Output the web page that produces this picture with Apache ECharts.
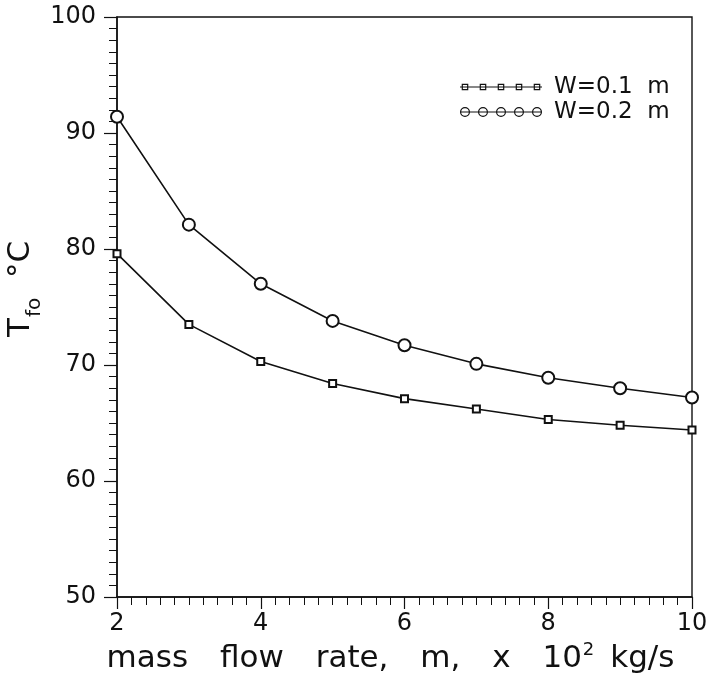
<!DOCTYPE html>
<html>
<head>
<meta charset="utf-8">
<script src="https://cdn.jsdelivr.net/npm/echarts@6/dist/echarts.min.js"></script>
<style>
html,body{margin:0;padding:0;background:#fff;}
#chart{width:710px;height:676px;}
</style>
</head>
<body>
<div id="chart"></div>
<script>
// Data
var flowRates = [2, 3, 4, 5, 6, 7, 8, 9, 10];
var tempW01 = [79.6, 73.5, 70.3, 68.4, 67.1, 66.2, 65.3, 64.8, 64.4];
var tempW02 = [91.4, 82.1, 77.0, 73.8, 71.7, 70.1, 68.9, 68.0, 67.2];
var seriesNames = ['W=0.1  m', 'W=0.2  m'];

var INK = '#111';
var FONT = 'DejaVu Sans';

// legend icon paths (line with five markers)
var ICON_W = 89, ICON_H = 10, LINE_END = 82;
var centers = [5, 23, 41, 59, 77];
function rect(x1, y1, x2, y2) {
  return 'M' + x1 + ' ' + y1 + 'L' + x2 + ' ' + y1 + 'L' + x2 + ' ' + y2 + 'L' + x1 + ' ' + y2 + 'Z';
}
function bounds() {
  return 'M0 0L0.01 0L0.01 0.01Z M' + ICON_W + ' ' + ICON_H + 'L' + (ICON_W - 0.01) + ' ' + ICON_H + 'L' + (ICON_W - 0.01) + ' ' + (ICON_H - 0.01) + 'Z ';
}
function squareIcon() {
  var p = bounds() + rect(0, 4.4, LINE_END, 5.6);
  centers.forEach(function (c) {
    var h = 3.3;
    p += rect(c - h, 5 - h, c + h, 5 - h + 1.2);
    p += rect(c - h, 5 + h - 1.2, c + h, 5 + h);
    p += rect(c - h, 5 - h, c - h + 1.2, 5 + h);
    p += rect(c + h - 1.2, 5 - h, c + h, 5 + h);
  });
  return 'path://' + p;
}
function circleIcon() {
  var p = bounds() + rect(0, 4.4, LINE_END, 5.6);
  centers.forEach(function (c) {
    var r = 5, ri = 3.8;
    p += 'M' + (c - r) + ' 5A' + r + ' ' + r + ' 0 1 1 ' + (c + r) + ' 5A' + r + ' ' + r + ' 0 1 1 ' + (c - r) + ' 5Z';
    p += 'M' + (c - ri) + ' 5A' + ri + ' ' + ri + ' 0 1 0 ' + (c + ri) + ' 5A' + ri + ' ' + ri + ' 0 1 0 ' + (c - ri) + ' 5Z';
  });
  return 'path://' + p;
}

function pairs(xs, ys) { return xs.map(function (x, i) { return [x, ys[i]]; }); }

var chart = echarts.init(document.getElementById('chart'), null, {renderer: 'canvas'});
chart.setOption({
  backgroundColor: '#fff',
  animation: false,
  textStyle: {fontFamily: FONT, color: INK},
  grid: {left: 117, right: 18, top: 17, bottom: 79, containLabel: false, outerBoundsMode: 'none',
         show: true, borderColor: INK, borderWidth: 1.4, backgroundColor: 'transparent'},
  graphic: [{
    type: 'text',
    x: 25,
    y: 289,
    rotation: Math.PI / 2,
    style: {
      text: '{n|T}{sub|fo}{n|  °C}',
      align: 'center',
      verticalAlign: 'middle',
      textAlign: 'center',
      textVerticalAlign: 'middle',
      fill: INK,
      rich: {
        n: {fontFamily: FONT, fontSize: 31, fill: INK, color: INK, verticalAlign: 'bottom', padding: [0, 0, 9, 0]},
        sub: {fontFamily: FONT, fontSize: 20, fill: INK, color: INK, verticalAlign: 'bottom', padding: [0, 0, 0, 1]}
      }
    }
  }],
  legend: {
    orient: 'vertical',
    left: 460,
    top: 75,
    padding: 0,
    itemGap: 1,
    itemWidth: ICON_W,
    itemHeight: ICON_H,
    selectedMode: false,
    itemStyle: {color: INK, borderWidth: 0},
    textStyle: {fontFamily: FONT, fontSize: 23, color: INK, lineHeight: 24},
    data: [
      {name: seriesNames[0], icon: squareIcon()},
      {name: seriesNames[1], icon: circleIcon()}
    ]
  },
  xAxis: {
    type: 'value',
    min: 2, max: 10, interval: 2,
    name: '{n|mass}{g| }{n|flow}{g| }{n|rate,}{g| }{n|m,}{g| }{n|x}{g| }{n|10}{sup|2}{h| }{n|kg/s}',
    nameLocation: 'middle',
    nameGap: 35,
    nameTextStyle: {
      padding: [0, 28, 0, 0],
      rich: {
        n: {fontFamily: FONT, fontSize: 31, color: INK, verticalAlign: 'bottom', padding: [8, 0, 0, 0]},
        g: {fontFamily: FONT, fontSize: 31, color: INK, verticalAlign: 'bottom', padding: [8, 22, 0, 0]},
        h: {fontFamily: FONT, fontSize: 31, color: INK, verticalAlign: 'bottom', padding: [8, 6, 0, 0]},
        sup: {fontFamily: FONT, fontSize: 18, color: INK, verticalAlign: 'bottom', padding: [0, 0, 16, 1]}
      }
    },
    axisLine: {show: true, onZero: false, lineStyle: {color: INK, width: 1.5}},
    axisTick: {show: true, inside: false, length: 12, lineStyle: {color: INK, width: 1.2}},
    minorTick: {show: true, splitNumber: 10, length: 8, lineStyle: {color: INK, width: 1}},
    axisLabel: {fontFamily: FONT, fontSize: 24, color: INK, margin: 15},
    splitLine: {show: false}
  },
  yAxis: {
    type: 'value',
    min: 50, max: 100, interval: 10,
    axisLine: {show: true, onZero: false, lineStyle: {color: INK, width: 1.5}},
    axisTick: {show: true, inside: false, length: 13, lineStyle: {color: INK, width: 1.2}},
    minorTick: {show: true, splitNumber: 10, length: 8, lineStyle: {color: INK, width: 1}},
    axisLabel: {fontFamily: FONT, fontSize: 24, color: INK, margin: 21},
    splitLine: {show: false}
  },
  series: [
    {
      name: seriesNames[0],
      type: 'line',
      data: pairs(flowRates, tempW01),
      symbol: 'emptyRect',
      symbolSize: 7,
      showAllSymbol: true,
      lineStyle: {color: INK, width: 1.6},
      itemStyle: {color: INK, borderColor: INK, borderWidth: 1.2}
    },
    {
      name: seriesNames[1],
      type: 'line',
      data: pairs(flowRates, tempW02),
      symbol: 'emptyCircle',
      symbolSize: 12,
      showAllSymbol: true,
      lineStyle: {color: INK, width: 1.6},
      itemStyle: {color: INK, borderColor: INK, borderWidth: 1.2}
    }
  ]
});
</script>
</body>
</html>
